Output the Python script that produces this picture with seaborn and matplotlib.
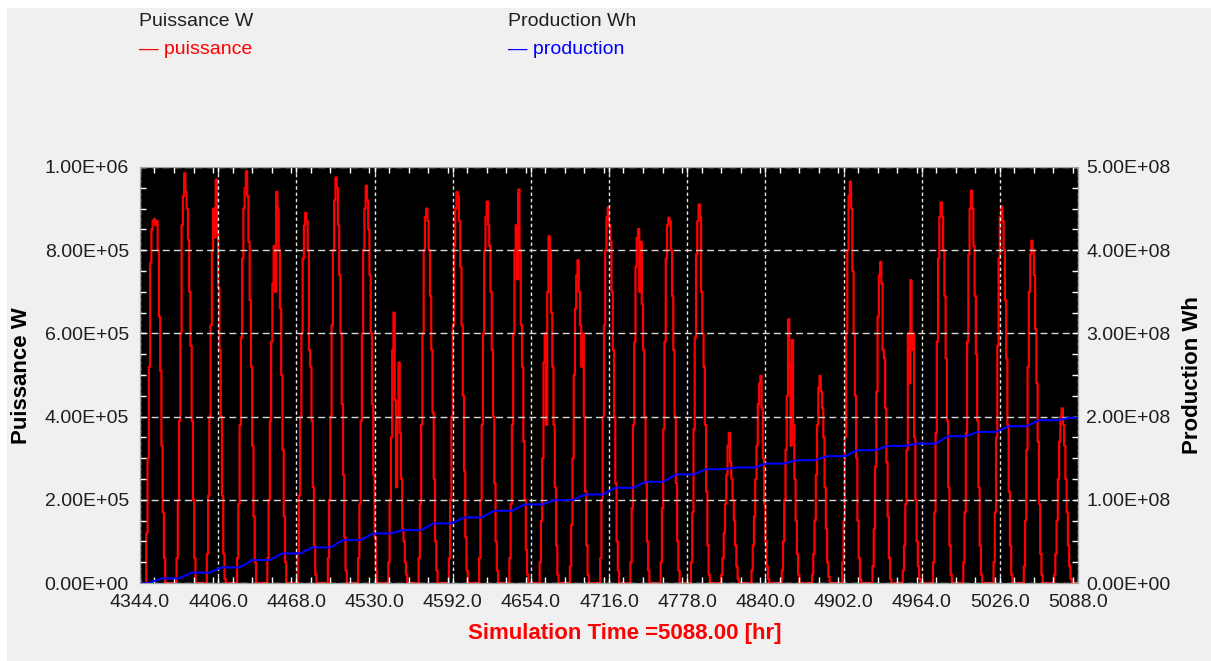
import numpy as np
import pandas as pd
import matplotlib
matplotlib.use('Agg')
import matplotlib.pyplot as plt
from matplotlib.patches import Rectangle
from matplotlib.ticker import MultipleLocator, FormatStrFormatter
import seaborn as sns

# simulation window (hours of the year)
t_start = 4344.0
t_end = 5088.0
x_ticks = [4344.0, 4406.0, 4468.0, 4530.0, 4592.0, 4654.0, 4716.0,
           4778.0, 4840.0, 4902.0, 4964.0, 5026.0, 5088.0]

# hourly power in kW, one row per day, hours 4h..20h
day_hours = list(range(4, 21))
puissance_kw = [
    [0, 120, 300, 520, 770, 850, 870, 875, 860, 870, 800, 640, 510, 330, 170, 60, 0],
    [0, 60, 200, 390, 600, 860, 930, 985, 940, 900, 825, 700, 570, 390, 200, 60, 0],
    [0, 70, 210, 400, 620, 800, 900, 830, 970, 840, 710, 560, 400, 210, 70, 10, 0],
    [0, 60, 190, 380, 590, 780, 900, 950, 990, 930, 820, 680, 520, 330, 160, 50, 0],
    [0, 60, 200, 390, 580, 720, 810, 700, 940, 900, 800, 660, 500, 320, 160, 50, 0],
    [0, 70, 210, 400, 600, 780, 860, 890, 870, 800, 560, 520, 390, 230, 90, 20, 0],
    [0, 60, 200, 400, 620, 800, 920, 975, 950, 860, 740, 600, 430, 260, 110, 30, 0],
    [0, 60, 190, 390, 600, 800, 900, 955, 920, 850, 740, 600, 430, 260, 110, 30, 0],
    [0, 50, 200, 350, 560, 650, 440, 230, 400, 530, 360, 250, 130, 100, 50, 20, 0],
    [0, 60, 190, 380, 600, 800, 880, 900, 870, 800, 690, 560, 410, 250, 100, 30, 0],
    [0, 60, 200, 400, 620, 810, 900, 940, 930, 870, 760, 620, 450, 270, 110, 30, 0],
    [0, 60, 200, 380, 600, 800, 880, 917, 860, 810, 700, 560, 400, 240, 100, 30, 0],
    [0, 60, 190, 380, 600, 800, 860, 730, 946, 800, 620, 520, 340, 200, 80, 20, 0],
    [0, 50, 150, 300, 530, 600, 380, 700, 834, 800, 650, 520, 380, 230, 90, 20, 0],
    [0, 40, 140, 300, 500, 660, 740, 776, 700, 620, 520, 600, 400, 220, 90, 20, 0],
    [0, 60, 200, 400, 620, 800, 880, 903, 860, 820, 700, 560, 400, 240, 100, 30, 0],
    [0, 50, 180, 380, 580, 760, 830, 851, 700, 820, 670, 560, 400, 240, 100, 30, 0],
    [0, 50, 180, 370, 580, 780, 860, 878, 870, 800, 690, 560, 400, 240, 100, 30, 0],
    [0, 50, 170, 370, 590, 790, 870, 910, 880, 700, 600, 520, 380, 220, 90, 20, 0],
    [0, 20, 60, 120, 190, 260, 330, 361, 290, 250, 200, 150, 90, 40, 10, 0, 0],
    [0, 30, 90, 160, 250, 330, 430, 480, 498, 420, 300, 190, 100, 40, 10, 0, 0],
    [0, 30, 100, 200, 320, 450, 634, 520, 330, 584, 380, 250, 150, 70, 20, 0, 0],
    [0, 20, 70, 150, 260, 380, 470, 498, 460, 420, 350, 230, 130, 50, 15, 0, 0],
    [0, 50, 150, 350, 600, 800, 930, 965, 900, 750, 600, 450, 300, 150, 60, 10, 0],
    [0, 40, 130, 280, 460, 640, 740, 772, 720, 560, 540, 420, 290, 160, 60, 10, 0],
    [0, 30, 90, 190, 320, 600, 480, 728, 560, 600, 350, 200, 100, 40, 10, 0, 0],
    [0, 50, 170, 360, 580, 780, 880, 915, 880, 800, 690, 540, 390, 230, 90, 20, 0],
    [0, 50, 170, 360, 580, 790, 900, 943, 900, 810, 690, 550, 390, 230, 90, 20, 0],
    [0, 50, 170, 350, 570, 780, 880, 905, 870, 800, 680, 540, 380, 220, 90, 20, 0],
    [0, 40, 150, 320, 520, 700, 790, 823, 800, 740, 610, 480, 340, 190, 70, 20, 0],
    [0, 20, 70, 150, 250, 340, 400, 420, 380, 330, 250, 170, 90, 40, 10, 0, 0],
]

# cumulative production at the end of each day, in MWh
production_mwh = [5.6, 12.4, 18.8, 27.6, 35.6, 42.8, 51.6, 59.6, 63.6, 71.6,
                  78.8, 86.8, 94.4, 99.6, 106.4, 114.4, 121.6, 130.4, 136.8, 138.8,
                  143.6, 147.6, 152.4, 159.6, 164.8, 167.6, 176.4, 181.6, 188.4, 195.6,
                  198.4]
ramp_start_hour = 7
ramp_end_hour = 17

# ---- build the series
n_hours = int(t_end - t_start)
power = np.zeros(n_hours + 1)
for d, row in enumerate(puissance_kw):
    i0 = 24 * d + day_hours[0]
    power[i0:i0 + len(row)] = np.array(row) * 1e3
df_p = pd.DataFrame({'time': t_start + np.arange(n_hours + 1), 'puissance': power})

prod_t = [t_start]
prod_v = [0.0]
prev = 0.0
for d, val in enumerate(production_mwh):
    prod_t += [t_start + 24 * d + ramp_start_hour, t_start + 24 * d + ramp_end_hour]
    prod_v += [prev, val * 1e6]
    prev = val * 1e6
prod_t.append(t_end)
prod_v.append(prev)
df_e = pd.DataFrame({'time': prod_t, 'production': prod_v})

# ---- figure
W, H = 1211, 661
fig = plt.figure(figsize=(W / 100, H / 100), dpi=100, facecolor='white')
plt.rcParams['font.family'] = ['Liberation Sans', 'DejaVu Sans']
fig.patches.append(Rectangle((7 / W, 0), 1, (H - 8) / H, transform=fig.transFigure,
                             facecolor='#f0f0f0', edgecolor='none', zorder=-10))

ax = fig.add_axes([140 / W, (H - 583) / H, 938 / W, 416 / H])
ax.set_facecolor('black')
ax2 = ax.twinx()

sns.lineplot(data=df_p, x='time', y='puissance', ax=ax, color='#ff0000',
             linewidth=1.6, drawstyle='steps-post', estimator=None, legend=False)
sns.lineplot(data=df_e, x='time', y='production', ax=ax2, color='#0000ff',
             linewidth=1.5, estimator=None, legend=False)

ax.set_xlim(t_start, t_end)
ax.set_ylim(0, 1e6)
ax2.set_ylim(0, 5e8)
ax.set_xticks(x_ticks)
ax.xaxis.set_major_formatter(FormatStrFormatter('%.1f'))
ax.xaxis.set_minor_locator(MultipleLocator(15.5))
ax.yaxis.set_major_locator(MultipleLocator(2e5))
ax.yaxis.set_minor_locator(MultipleLocator(5e4))
ax.yaxis.set_major_formatter(FormatStrFormatter('%.2E'))
ax2.yaxis.set_major_locator(MultipleLocator(1e8))
ax2.yaxis.set_minor_locator(MultipleLocator(2.5e7))
ax2.yaxis.set_major_formatter(FormatStrFormatter('%.2E'))

ax.grid(True, axis='y', color='#d8d8d8', linestyle=(0, (5, 3)), linewidth=1.0)
ax.grid(True, axis='x', color='#e8e8e8', linestyle=(0, (2.5, 2)), linewidth=1.0)
ax.set_axisbelow(False)

for a in (ax, ax2):
    a.tick_params(which='both', direction='in', color='white', width=1,
                  labelsize=14, labelcolor='#1e1e1e')
    a.tick_params(which='major', length=4)
    a.tick_params(which='minor', length=4)
    for s in a.spines.values():
        s.set_color('#a0a0a0')
        s.set_linewidth(0.8)
ax.tick_params(axis='x', which='both', top=True, pad=8)
ax.tick_params(axis='y', which='both', pad=8)
ax2.tick_params(axis='y', which='both', pad=6)
ax.set_xlabel('')
ax.set_ylabel('')
ax2.set_ylabel('')

# axis titles
fig.text(22 / W, 1 - 376 / H, 'Puissance W', rotation=90, fontsize=16, fontweight='bold',
         ha='center', va='center', color='black')
fig.text(1193 / W, 1 - 375 / H, 'Production Wh', rotation=90, fontsize=16, fontweight='bold',
         ha='center', va='center', color='black')
fig.text(625 / W, 1 - 633 / H, 'Simulation Time =%.2f [hr]' % t_end, fontsize=16,
         fontweight='bold', ha='center', va='center', color='#ff0000')

# legend block at the top
fig.text(139 / W, 1 - 21 / H, 'Puissance W', fontsize=14, ha='left', va='center', color='#1e1e1e')
fig.text(139 / W, 1 - 50 / H, '\u2014 puissance', fontsize=14, ha='left', va='center', color='#ff0000')
fig.text(508 / W, 1 - 21 / H, 'Production Wh', fontsize=14, ha='left', va='center', color='#1e1e1e')
fig.text(508 / W, 1 - 50 / H, '\u2014 production', fontsize=14, ha='left', va='center', color='#0000ff')

fig.savefig('out.png', dpi=100, facecolor=fig.get_facecolor())
